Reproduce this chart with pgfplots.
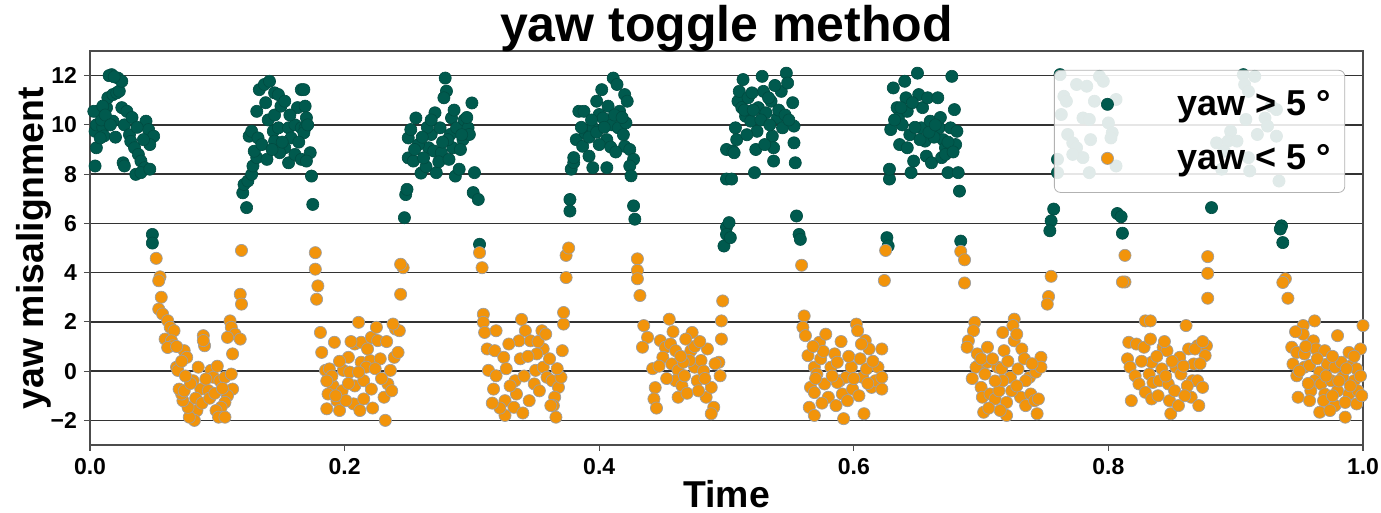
\documentclass[border=0pt]{standalone}
\usepackage{fontspec}
\setmainfont{Liberation Sans}
\usepackage{pgfplots}
\pgfplotsset{compat=1.18}

\definecolor{yawteal}{RGB}{0,90,78}
\definecolor{yaworange}{RGB}{242,148,10}

\begin{document}
\begin{tikzpicture}
\begin{axis}[
  width=636.5pt, height=197pt, scale only axis,
  xmin=0, xmax=1, ymin=-3, ymax=13,
  xtick={0,0.2,0.4,0.6,0.8,1},
  xticklabels={0.0,0.2,0.4,0.6,0.8,1.0},
  ytick={-2,0,2,4,6,8,10,12},
  yticklabels={−2,0,2,4,6,8,10,12},
  ymajorgrids,
  grid style={black!80, line width=0.85pt},
  axis line style={black!70, line width=0.75pt},
  tick pos=left,
  tick align=outside, major tick length=3pt,
  tick style={black!70, line width=0.6pt},
  ticklabel style={font=\bfseries\fontsize{11.5}{13}\selectfont},
  title={yaw toggle method},
  title style={font=\bfseries\fontsize{25}{30}\selectfont, yshift=-10pt},
  xlabel={Time},
  ylabel={yaw misalignment},
  label style={font=\bfseries\fontsize{18.7}{22}\selectfont},
  xlabel style={yshift=4pt},
  ylabel style={yshift=-7pt},
  legend style={at={(0.986,0.952)}, anchor=north east,
    font=\bfseries\fontsize{18}{21}\selectfont,
    fill=white, fill opacity=0.88, text opacity=1, draw opacity=1,
    draw=black!30, rounded corners=3pt, row sep=9pt,
    inner xsep=5pt, inner ysep=8pt},
  legend cell align=right,
  legend image code/.code={\path (-0.75cm,0) (1.15cm,0);
    \draw[#1, fill opacity=1] plot coordinates {(0cm,0cm)};},
]
% yaw > 5 deg
\addplot[only marks, mark=*, mark size=3.05pt,
  mark options={fill=yawteal, draw=yawteal!85!black, line width=0.3pt}]
coordinates {
(0.004,8.33)(0.005,9.07)(0.004,9.74)(0.005,10.0)(0.006,10.55)(0.010,9.9)(0.011,9.55)(0.009,10.2)
(0.013,10.7)(0.014,11.1)(0.018,11.23)(0.021,11.3)(0.023,11.37)(0.017,12.04)(0.022,11.9)(0.025,11.77)
(0.018,10.15)(0.025,10.7)(0.029,10.55)(0.027,10.0)(0.031,9.6)(0.032,9.33)(0.035,9.07)(0.038,8.8)
(0.040,8.53)(0.043,8.26)(0.036,7.99)(0.040,8.06)(0.047,8.2)(0.026,8.46)(0.027,8.33)(0.044,10.15)
(0.046,9.81)(0.050,9.54)(0.047,9.2)(0.008,9.47)(0.003,10.55)(0.010,10.76)(0.049,5.55)(0.049,5.2)
(0.015,12.0)(0.019,11.95)(0.012,10.4)(0.016,10.0)(0.020,9.5)(0.033,10.3)(0.037,9.9)(0.042,9.4)
(0.123,6.64)(0.120,7.24)(0.121,7.58)(0.124,7.72)(0.127,7.99)(0.128,8.33)(0.131,8.67)(0.129,8.93)
(0.125,9.54)(0.127,9.74)(0.132,9.47)(0.135,9.2)(0.139,8.6)(0.131,10.55)(0.133,11.43)(0.137,11.64)
(0.141,11.77)(0.145,11.3)(0.148,11.23)(0.140,10.2)(0.145,10.4)(0.150,10.76)(0.153,10.96)(0.144,9.74)
(0.148,9.88)(0.156,9.88)(0.161,10.0)(0.166,9.88)(0.166,11.43)(0.156,8.46)(0.153,9.07)(0.149,8.87)
(0.145,9.34)(0.161,8.8)(0.166,8.6)(0.158,9.47)(0.163,10.7)(0.168,11.43)(0.169,10.76)(0.170,10.29)
(0.169,9.88)(0.168,9.68)(0.173,8.87)(0.170,8.53)(0.174,7.92)(0.175,6.77)
(0.138,10.9)(0.143,9.0)(0.151,9.3)(0.157,10.4)(0.164,9.3)(0.171,10.0)
(0.247,6.23)(0.248,7.17)(0.249,7.38)(0.250,8.66)(0.254,8.53)(0.250,9.47)(0.252,9.81)(0.256,10.28)
(0.260,8.04)(0.264,8.3)(0.266,9.07)(0.268,9.61)(0.270,8.94)(0.271,10.49)(0.272,8.06)(0.275,9.88)
(0.276,8.87)(0.279,11.9)(0.280,11.37)(0.278,11.1)(0.284,10.28)(0.283,9.61)(0.285,9.07)(0.287,7.92)
(0.288,9.88)(0.290,8.2)(0.293,9.4)(0.294,10.2)(0.297,9.88)(0.298,9.61)(0.300,10.89)(0.302,8.06)
(0.301,7.25)(0.305,6.97)(0.306,5.15)(0.262,8.66)(0.281,9.4)(0.258,9.2)(0.265,9.9)(0.277,9.3)
(0.291,9.0)(0.296,10.3)(0.286,10.6)
(0.255,9.0)(0.261,9.5)(0.268,10.2)(0.274,8.5)(0.282,8.6)(0.292,9.6)
(0.377,6.97)(0.377,6.5)(0.378,8.2)(0.380,8.47)(0.380,8.67)(0.382,9.4)(0.384,10.55)(0.388,10.55)
(0.387,9.13)(0.389,9.67)(0.392,8.73)(0.395,8.26)(0.395,9.88)(0.398,10.96)(0.400,10.42)(0.402,11.43)
(0.403,10.28)(0.406,9.4)(0.406,8.26)(0.407,10.76)(0.410,10.0)(0.411,11.9)(0.414,11.64)(0.415,9.88)
(0.416,10.55)(0.420,11.23)(0.421,10.08)(0.422,10.96)(0.420,9.13)(0.424,9.0)(0.427,8.6)(0.424,8.33)
(0.425,7.93)(0.427,6.71)(0.428,6.17)(0.392,9.5)(0.398,9.7)(0.404,9.9)(0.412,10.4)(0.418,10.3)
(0.386,9.9)(0.394,10.2)(0.400,9.2)(0.409,9.1)(0.413,8.9)(0.419,9.6)
(0.500,9.0)(0.500,7.8)(0.500,5.85)(0.498,5.08)(0.500,5.55)
(0.502,6.03)(0.503,5.42)(0.504,7.8)(0.505,8.94)(0.506,8.87)(0.507,9.88)(0.509,10.96)(0.510,11.36)
(0.513,11.84)(0.512,10.7)(0.515,10.35)(0.517,11.1)(0.519,10.15)(0.523,9.0)(0.522,8.06)(0.524,9.74)
(0.525,10.7)(0.528,11.97)(0.529,11.36)(0.531,10.49)(0.535,10.96)(0.536,9.54)(0.537,9.07)(0.537,8.53)
(0.540,10.28)(0.543,11.36)(0.544,9.88)(0.547,12.1)(0.548,11.7)(0.552,10.9)(0.553,9.95)(0.553,9.27)
(0.554,8.46)(0.555,6.3)(0.557,5.55)(0.558,5.35)(0.514,10.6)(0.520,11.3)(0.527,10.2)(0.533,11.1)
(0.541,10.6)(0.546,10.4)(0.538,11.6)
(0.508,9.4)(0.516,9.6)(0.521,10.6)(0.530,9.2)(0.534,10.0)(0.549,10.2)
(0.626,5.42)(0.627,5.08)(0.628,7.8)(0.628,8.2)(0.629,9.81)(0.631,11.5)(0.634,10.7)(0.635,10.28)
(0.636,9.2)(0.638,10.0)(0.640,11.77)(0.641,11.1)(0.642,10.55)(0.642,9.07)(0.644,9.6)(0.645,8.06)
(0.647,8.53)(0.650,12.1)(0.651,11.23)(0.653,9.88)(0.654,10.7)(0.656,9.34)(0.657,8.73)(0.658,11.1)
(0.660,10.15)(0.661,8.46)(0.666,11.1)(0.677,11.97)(0.679,10.62)(0.667,9.88)(0.670,9.4)(0.672,9.07)
(0.676,9.88)(0.680,9.2)(0.681,9.74)(0.669,8.67)(0.674,8.06)(0.682,8.06)(0.683,7.31)(0.672,8.8)
(0.684,5.28)(0.648,9.9)(0.663,9.5)(0.668,10.3)(0.674,9.3)(0.678,8.9)
(0.632,10.2)(0.637,10.7)(0.646,10.9)(0.652,9.4)(0.659,9.7)(0.664,10.0)
(0.757,6.58)(0.755,6.1)(0.754,5.7)(0.807,6.4)(0.810,6.27)(0.811,5.6)(0.881,6.64)(0.936,5.9)
(0.935,5.77)(0.937,5.22)
(0.762,12.04)(0.775,11.64)(0.783,11.57)(0.793,11.97)(0.796,11.77)(0.765,11.16)(0.767,10.96)(0.763,10.42)
(0.780,10.28)(0.785,10.22)(0.789,10.96)(0.806,11.03)(0.800,10.08)(0.803,9.68)(0.802,9.47)(0.768,9.61)
(0.772,9.27)(0.775,9.07)(0.786,9.4)(0.780,8.67)(0.760,8.6)(0.806,8.33)(0.785,8.06)(0.760,8.06)
(0.772,8.8)
(0.906,12.04)(0.915,11.97)(0.907,11.64)(0.910,11.36)(0.928,10.76)(0.932,10.62)(0.923,10.28)(0.908,10.22)
(0.925,9.95)(0.896,9.74)(0.917,9.61)(0.894,9.34)(0.885,9.27)(0.901,9.34)(0.932,9.54)(0.891,8.93)
(0.910,8.67)(0.889,8.2)(0.911,8.13)(0.934,7.72)
};
\addlegendentry{yaw > 5 °}
% yaw < 5 deg
\addplot[only marks, mark=*, mark size=3.05pt,
  mark options={fill=yaworange, draw=gray!75, line width=0.35pt}]
coordinates {
(0.052,4.58)(0.055,3.83)(0.054,3.67)(0.056,3.0)(0.054,2.52)(0.057,2.32)(0.061,2.05)(0.063,1.78)
(0.066,1.64)(0.059,1.3)(0.064,1.23)(0.065,1.03)(0.061,0.96)(0.074,0.83)(0.076,0.56)(0.068,0.16)
(0.069,0.03)(0.085,0.16)(0.089,1.44)(0.090,1.03)(0.089,1.24)(0.081,-0.39)(0.087,-0.73)(0.093,-0.79)
(0.095,0.03)(0.097,-0.25)(0.091,-0.32)(0.102,-0.39)(0.106,-0.25)(0.111,-0.12)(0.112,-0.73)(0.108,-1.0)
(0.106,-1.27)(0.103,-1.47)(0.099,-1.6)(0.101,-1.87)(0.106,-1.87)(0.084,-1.6)(0.082,-2.0)(0.078,-1.87)
(0.077,-1.47)(0.073,-1.2)(0.072,-0.93)(0.070,-0.73)(0.074,-0.8)(0.112,0.7)(0.110,2.04)(0.111,1.78)
(0.114,1.5)(0.118,1.3)(0.108,1.37)(0.119,4.9)(0.118,3.12)(0.119,2.72)
(0.079,-0.5)(0.083,-1.1)(0.088,-1.3)(0.094,-1.1)(0.098,-0.9)(0.104,-0.7)(0.100,0.2)(0.075,-0.2)
(0.068,1.0)(0.072,0.4)
(0.177,4.81)(0.177,4.14)(0.179,3.46)(0.178,2.92)(0.181,1.57)(0.182,0.76)(0.192,1.17)(0.211,1.98)
(0.185,0.03)(0.188,0.09)(0.191,-0.6)(0.187,-0.93)(0.186,-1.53)(0.194,-1.2)(0.196,-1.6)(0.198,-0.8)
(0.199,0.03)(0.203,0.56)(0.204,-0.04)(0.207,-1.33)(0.208,-0.6)(0.215,-1.13)(0.215,-0.39)(0.213,0.36)
(0.208,1.1)(0.213,1.17)(0.220,0.43)(0.221,-0.73)(0.221,1.37)(0.225,1.78)(0.226,1.24)(0.228,0.5)
(0.231,-1.06)(0.232,-2.0)(0.234,-0.52)(0.236,0.03)(0.239,0.56)(0.240,1.71)(0.243,1.64)(0.242,0.76)
(0.217,0.16)(0.211,-0.04)(0.201,-1.2)(0.246,4.2)(0.244,4.34)(0.244,3.12)(0.238,1.91)
(0.190,-0.2)(0.196,0.4)(0.205,1.2)(0.218,0.9)(0.224,0.1)(0.229,-0.3)(0.222,-1.5)(0.212,-1.6)
(0.203,-0.5)(0.233,1.2)(0.237,-0.8)(0.193,-1.0)(0.186,-0.4)
(0.306,4.81)(0.308,4.2)(0.309,2.31)(0.309,1.98)(0.310,1.57)(0.312,0.9)(0.319,1.64)(0.318,0.83)
(0.325,0.56)(0.313,0.03)(0.319,-0.19)(0.317,-0.73)(0.326,-1.2)(0.326,-1.8)
(0.339,2.1)(0.342,1.64)(0.337,1.23)(0.338,0.5)(0.334,-0.39)(0.335,-0.93)(0.333,-1.47)(0.346,1.23)
(0.355,1.64)(0.356,0.9)(0.351,0.7)(0.350,0.03)(0.349,-0.52)(0.356,0.16)(0.359,-0.25)(0.363,-0.39)
(0.368,-0.66)(0.365,-1.06)(0.364,-1.4)(0.366,-1.87)(0.370,-0.25)(0.371,0.83)(0.372,1.91)(0.372,2.38)
(0.374,3.8)(0.374,4.7)(0.376,5.0)
(0.327,0.1)(0.330,-0.6)(0.322,-1.5)(0.341,-0.2)(0.344,0.6)(0.352,1.2)(0.358,1.5)(0.361,0.5)
(0.345,-1.2)(0.353,-0.8)(0.367,0.1)(0.340,-1.7)(0.329,1.1)(0.362,-1.4)(0.316,-1.3)
(0.430,4.56)(0.430,4.09)(0.430,3.75)(0.432,3.07)(0.435,1.85)(0.438,1.37)(0.434,0.97)(0.442,0.1)
(0.444,-0.67)(0.443,-1.13)(0.455,2.11)(0.448,1.24)(0.452,0.97)(0.456,1.1)(0.450,0.56)(0.460,0.83)
(0.457,0.29)(0.462,0.03)(0.460,-0.39)(0.465,-0.6)(0.462,-1.06)(0.467,-0.19)(0.472,0.83)(0.473,1.57)
(0.475,0.16)(0.477,-0.39)(0.480,0.43)(0.485,0.9)(0.484,-1.06)(0.488,-0.66)(0.490,-1.47)(0.488,-1.73)
(0.494,0.36)(0.495,-0.19)(0.496,1.3)(0.496,2.04)(0.497,2.85)(0.471,0.43)(0.466,0.36)
(0.447,0.2)(0.453,-0.3)(0.458,1.6)(0.464,0.6)(0.469,-0.9)(0.475,1.0)(0.478,-0.8)(0.482,0.0)
(0.491,0.3)(0.479,1.2)(0.445,-1.5)(0.468,1.3)(0.483,-0.3)
(0.559,4.3)(0.561,2.24)(0.560,1.78)(0.562,1.44)(0.564,0.63)(0.573,1.17)(0.578,1.5)(0.569,0.16)
(0.571,-0.12)(0.574,0.5)(0.566,-0.66)(0.569,-0.87)(0.565,-1.47)(0.569,-1.8)(0.577,-0.52)(0.580,-1.06)
(0.582,0.16)(0.585,0.7)(0.587,0.36)(0.589,-0.39)(0.591,-0.93)(0.595,-1.2)(0.592,-1.93)(0.594,-0.25)
(0.598,0.16)(0.599,-0.73)(0.602,1.91)(0.603,1.64)(0.605,0.5)(0.607,-0.25)(0.608,-1.73)(0.609,1.24)
(0.612,0.9)(0.610,0.09)(0.614,-0.66)(0.617,-0.39)(0.619,0.16)(0.622,-0.25)(0.622,0.9)(0.622,-0.73)
(0.587,-0.46)(0.625,4.9)(0.624,3.68)
(0.570,-0.3)(0.576,0.8)(0.583,-0.2)(0.586,-1.4)(0.596,0.6)(0.600,-0.3)(0.604,-1.0)(0.611,-0.5)
(0.615,0.4)(0.575,-1.3)(0.590,1.2)(0.568,1.0)(0.606,1.1)
(0.684,4.86)(0.687,4.52)(0.687,3.58)(0.695,1.98)(0.694,1.64)(0.690,1.23)(0.689,0.97)(0.697,0.7)
(0.698,0.23)(0.696,0.16)(0.705,0.97)(0.705,0.36)(0.703,-0.12)(0.700,-0.66)(0.701,-1.06)(0.702,-1.67)
(0.707,-0.93)(0.711,-1.13)(0.714,-0.8)(0.718,0.83)(0.717,1.57)(0.720,-1.27)(0.720,-1.8)(0.723,-0.25)
(0.726,2.11)(0.725,1.85)(0.726,1.23)(0.729,0.09)(0.731,-1.06)(0.732,0.9)(0.735,-1.4)(0.738,-0.25)
(0.739,-0.93)(0.743,-0.04)(0.742,-1.2)(0.744,-1.73)(0.745,-1.13)(0.747,0.56)(0.747,0.16)(0.713,0.16)
(0.717,-0.39)(0.735,-0.39)
(0.700,0.5)(0.709,0.5)(0.711,-0.4)(0.716,0.1)(0.721,0.4)(0.724,-0.8)(0.728,-0.6)(0.734,0.5)
(0.740,0.3)(0.706,-1.5)(0.715,-1.6)(0.728,1.5)(0.693,-0.3)
(0.755,3.85)(0.753,3.03)(0.752,2.72)(0.813,4.7)(0.813,3.62)(0.811,3.62)(0.878,4.65)(0.878,3.97)
(0.878,2.96)(0.939,3.75)(0.937,3.6)(0.941,2.96)
(0.829,2.04)(0.816,1.17)(0.822,1.1)(0.828,0.97)(0.815,0.5)(0.817,0.16)(0.821,-0.19)(0.824,-0.52)
(0.829,-0.86)(0.818,-1.2)(0.832,-0.12)
(0.833,2.04)(0.833,1.3)(0.834,0.36)(0.835,-0.46)(0.834,-1.13)(0.843,0.97)(0.846,0.83)(0.842,0.09)
(0.840,-0.39)(0.847,-0.52)(0.848,-1.2)(0.849,-1.73)(0.852,-0.8)(0.853,0.16)(0.856,0.56)(0.857,-0.12)
(0.861,1.85)(0.863,0.9)(0.865,-1.06)(0.866,-0.39)(0.867,0.29)(0.871,-1.4)(0.870,-0.39)(0.874,-0.66)
(0.870,1.03)(0.877,1.03)(0.876,0.63)
(0.826,0.4)(0.838,0.6)(0.845,-0.2)(0.850,0.4)(0.855,-1.4)(0.859,0.2)(0.862,-0.6)(0.868,0.9)
(0.872,0.3)(0.874,1.2)(0.839,-1.0)(0.844,1.2)(0.860,-1.0)
(0.953,1.85)(0.962,2.04)(0.953,1.5)(0.980,1.44)(0.944,0.97)(0.948,0.76)(0.954,0.7)(0.961,1.23)
(0.963,0.9)(0.970,0.83)(0.989,0.76)(1.000,1.85)(0.998,0.9)(0.945,0.29)(0.948,-0.19)(0.954,0.16)
(0.958,0.23)(0.966,-0.04)(0.972,0.29)(0.978,0.16)(0.983,0.36)(0.991,0.23)(0.995,0.09)(0.962,-0.39)
(0.967,-0.52)(0.975,-0.39)(0.984,-0.25)(0.993,-0.39)(0.959,-0.8)(0.970,-0.93)(0.980,-0.8)(0.989,-0.93)
(0.996,-0.8)(0.949,-1.06)(0.958,-1.2)(0.969,-1.2)(0.978,-1.4)(0.986,-1.27)(0.966,-1.67)(0.974,-1.6)
(0.986,-1.87)(0.995,-1.33)
(0.950,0.0)(0.957,-0.5)(0.964,0.5)(0.971,-0.2)(0.976,0.6)(0.981,-0.4)(0.987,0.1)(0.990,-0.6)
(0.993,0.6)(0.998,-0.2)(0.955,1.0)(0.976,-1.0)(0.999,-1.0)(0.947,1.6)
};
\addlegendentry{yaw < 5 °}
\end{axis}
\pgfresetboundingbox
\path ([xshift=-45pt,yshift=-34pt]current axis.south west)
  rectangle ([xshift=9pt,yshift=25.5pt]current axis.north east);
\end{tikzpicture}
\end{document}
